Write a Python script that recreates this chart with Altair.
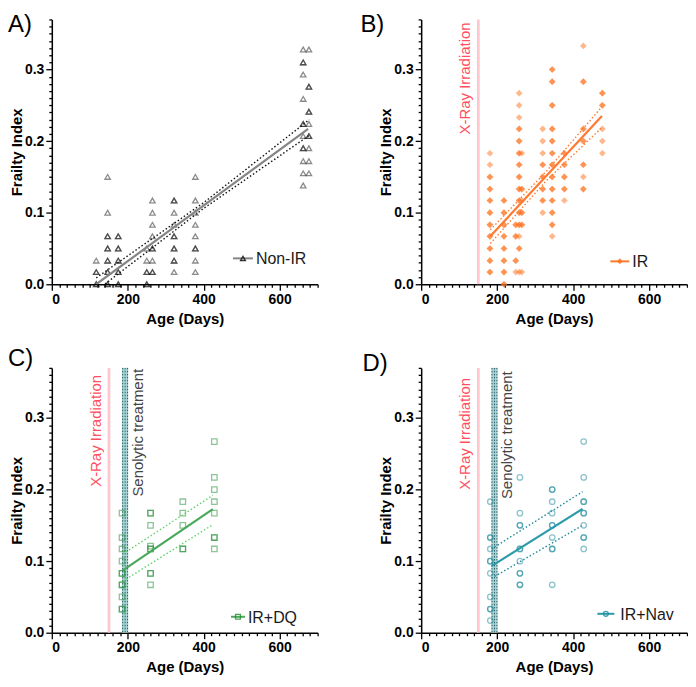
import altair as alt
import pandas as pd

# ---------------- axis ticks ----------------
X_TICKS = list(range(0, 701, 20))
Y_TICKS = [round(i * 0.01, 2) for i in range(0, 38)]

# ---------------- Panel A : Non-IR ----------------
A_day = [117, 117, 117,
         147, 147, 147, 147, 147, 147, 147,
         175, 175, 175, 175, 175,
         250, 250, 250, 250,
         265, 265, 265, 265, 265, 265, 265,
         322, 322, 322, 322, 322, 322, 322,
         378, 378, 378, 378, 378, 378, 378, 378,
         662, 662, 662, 662, 662, 662, 662, 662, 662, 662,
         677, 677, 677, 677, 677, 677, 677, 677]
A_fi = [0.0, 0.017, 0.033,
        0.15, 0.10, 0.067, 0.05, 0.033, 0.017, 0.0,
        0.067, 0.05, 0.033, 0.017, 0.0,
        0.0, 0.017, 0.033, 0.05,
        0.117, 0.10, 0.083, 0.067, 0.05, 0.033, 0.017,
        0.117, 0.10, 0.083, 0.067, 0.05, 0.033, 0.017,
        0.15, 0.117, 0.10, 0.083, 0.067, 0.05, 0.033, 0.017,
        0.328, 0.310, 0.293, 0.259, 0.224, 0.207, 0.190, 0.172, 0.155, 0.138,
        0.328, 0.276, 0.241, 0.224, 0.207, 0.190, 0.172, 0.155]
A_n = [2, 2, 1,
       1, 1, 2, 2, 2, 2, 2,
       2, 2, 2, 2, 2,
       2, 2, 1, 1,
       1, 1, 1, 1, 2, 1, 2,
       2, 1, 1, 2, 2, 2, 1,
       1, 1, 1, 1, 1, 2, 1, 1,
       1, 2, 1, 1, 2, 1, 2, 1, 1, 1,
       1, 2, 2, 1, 2, 1, 1, 1]
A_fit_day = [117, 675]
A_fit_fi = [0.0, 0.217]
A_ci_day = [117, 400, 678]
A_ci_hi = [0.009, 0.114, 0.230]
A_ci_lo = [-0.009, 0.106, 0.208]

# ---------------- Panel B : IR ----------------
B_day = [181] * 11 + [218] * 8 + [249] * 4 + [258] * 15 + [265] * 6 + [320] * 8 + [345] * 13 + [377] * 5 + [427] * 8 + [477] * 5
B_fi = [0.183, 0.167, 0.15, 0.133, 0.117, 0.10, 0.083, 0.067, 0.05, 0.033, 0.017,
        0.117, 0.10, 0.083, 0.067, 0.05, 0.033, 0.017, 0.0,
        0.083, 0.067, 0.033, 0.017,
        0.267, 0.25, 0.233, 0.217, 0.20, 0.183, 0.167, 0.15, 0.133, 0.117, 0.10, 0.083, 0.067, 0.05, 0.017,
        0.183, 0.133, 0.117, 0.10, 0.083, 0.017,
        0.217, 0.20, 0.183, 0.167, 0.15, 0.133, 0.117, 0.10,
        0.30, 0.283, 0.25, 0.217, 0.20, 0.183, 0.167, 0.15, 0.133, 0.117, 0.10, 0.083, 0.067,
        0.183, 0.167, 0.15, 0.133, 0.117,
        0.333, 0.283, 0.217, 0.20, 0.167, 0.15, 0.133, 0.20,
        0.267, 0.25, 0.217, 0.20, 0.183]
B_n = [1, 1, 2, 2, 2, 2, 2, 2, 2, 2, 2,
       2, 2, 2, 2, 2, 2, 2, 2,
       2, 2, 2, 1,
       1, 1, 1, 2, 2, 2, 2, 2, 2, 2, 2, 2, 1, 2, 1,
       1, 2, 1, 2, 2, 1,
       1, 1, 1, 2, 2, 2, 2, 1,
       2, 2, 2, 2, 2, 2, 2, 2, 2, 2, 2, 2, 1,
       2, 2, 2, 2, 1,
       1, 2, 2, 1, 2, 1, 2, 1,
       2, 2, 1, 1, 1]
B_fit_day = [182, 476]
B_fit_fi = [0.067, 0.235]
B_ci_day = [182, 330, 476]
B_ci_hi = [0.076, 0.158, 0.248]
B_ci_lo = [0.057, 0.145, 0.219]

# ---------------- Panel C : IR+DQ ----------------
C_day = [185] * 8 + [260] * 6 + [345] * 4 + [428] * 7
C_fi = [0.167, 0.133, 0.117, 0.10, 0.083, 0.067, 0.05, 0.033,
        0.167, 0.15, 0.121, 0.117, 0.083, 0.067,
        0.183, 0.167, 0.15, 0.117,
        0.267, 0.217, 0.20, 0.183, 0.167, 0.133, 0.117]
C_n = [1, 1, 1, 1, 2, 2, 1, 2,
       2, 1, 1, 2, 2, 1,
       1, 1, 1, 2,
       1, 1, 1, 1, 1, 2, 1]
C_fit_day = [187, 424]
C_fit_fi = [0.087, 0.1726]
C_ci_day = [187, 424]
C_ci_hi = [0.110, 0.192]
C_ci_lo = [0.072, 0.151]

# ---------------- Panel D : IR+Nav ----------------
D_day = [182] * 8 + [260] * 7 + [345] * 7 + [428] * 7
D_fi = [0.183, 0.133, 0.117, 0.10, 0.083, 0.05, 0.033, 0.017,
        0.217, 0.167, 0.15, 0.117, 0.10, 0.083, 0.067,
        0.20, 0.183, 0.167, 0.15, 0.133, 0.117, 0.067,
        0.267, 0.217, 0.183, 0.167, 0.15, 0.133, 0.117]
D_n = [1, 2, 1, 2, 1, 1, 2, 1,
       1, 1, 2, 2, 1, 2, 2,
       2, 1, 1, 2, 1, 2, 1,
       1, 1, 2, 2, 1, 2, 1]
D_fit_day = [185, 425]
D_fit_fi = [0.093, 0.173]
D_ci_day = [185, 425]
D_ci_hi = [0.117, 0.197]
D_ci_lo = [0.076, 0.150]

# ---------------- events ----------------
XRAY_START, XRAY_END, XRAY_DAY = 147, 154, 150
SENO_START, SENO_END, SENO_DAY = 185, 201, 193
SENO_LINES = [186.5, 193, 199.5]

NAMES = ["Non-IR", "IR", "IR+DQ", "IR+Nav"]
LETTERS = ["A)", "B)", "C)", "D)"]

W = 267
H = 266
FONT = "Liberation Sans"

xscale = alt.Scale(domain=[0, 700], nice=False, zero=False)
yscale = alt.Scale(domain=[0, 0.37], nice=False, zero=False)

x_axis = alt.Axis(
    values=X_TICKS,
    labelExpr="datum.value % 200 === 0 ? datum.label : ''",
    tickSize={"condition": {"test": "datum.value % 200 === 0", "value": 6}, "value": 3},
    title="Age (Days)",
    labelOverlap=False,
    grid=False,
)
y_axis = alt.Axis(
    values=Y_TICKS,
    labelExpr="abs(datum.value*10 - round(datum.value*10)) < 0.001 ? format(datum.value, '.1f') : ''",
    tickSize={"condition": {"test": "abs(datum.value*10 - round(datum.value*10)) < 0.001", "value": 6}, "value": 3},
    title="Frailty Index",
    labelOverlap=False,
    grid=False,
)


def X(field):
    return alt.X(field, type="quantitative", scale=xscale, axis=x_axis)


def Y(field):
    return alt.Y(field, type="quantitative", scale=yscale, axis=y_axis)


def expand(days, fis, ns):
    rows = []
    for d, f, n in zip(days, fis, ns):
        for _ in range(n):
            rows.append({"day": d, "fi": f})
    return pd.DataFrame(rows)


def panel(idx, days, fis, ns, fit_d, fit_f, ci_d, ci_hi, ci_lo, marker,
          line_color, ci_color, legend_pos, letter_pos,
          xray=None, seno=None):
    layers = []
    # event bands
    if xray is not None:
        band = pd.DataFrame({"x0": [XRAY_START], "x1": [XRAY_END], "d": [XRAY_DAY]})
        layers.append(alt.Chart(band).mark_rect(color="#ffc0c8", opacity=0.9).encode(
            x=X("x0"), x2="x1", y=alt.value(0), y2=alt.value(H)))
        layers.append(alt.Chart(band).mark_text(
            text="X-Ray Irradiation", angle=270, align="right", baseline="bottom",
            dy=-5, fontSize=15, font=FONT, color="#ff4f5e").encode(
            x=X("d"), y=alt.value(xray)))
    if seno is not None:
        sband = pd.DataFrame({"x0": [SENO_START], "x1": [SENO_END], "d": [SENO_DAY]})
        layers.append(alt.Chart(sband).mark_rect(color="#9fcfcf", opacity=0.9).encode(
            x=X("x0"), x2="x1", y=alt.value(0), y2=alt.value(H)))
        layers.append(alt.Chart(pd.DataFrame({"d": SENO_LINES})).mark_rule(
            color="#2c5d68", strokeWidth=1, strokeDash=[1.5, 1.5]).encode(
            x=X("d"), y=alt.value(0), y2=alt.value(H)))
        layers.append(alt.Chart(sband).mark_text(
            text="Senolytic treatment", angle=270, align="right", baseline="top",
            dy=6, fontSize=15, font=FONT, color="#444444").encode(
            x=X("d"), y=alt.value(seno)))

    # points
    pts = expand(days, fis, ns)
    shape, filled, mcolor, size, op = marker
    if filled:
        pmark = alt.Chart(pts).mark_point(shape=shape, filled=True, fill=mcolor,
                                          strokeWidth=0, size=size, opacity=op)
    else:
        pmark = alt.Chart(pts).mark_point(shape=shape, filled=False, color=mcolor,
                                          strokeWidth=1.3, size=size, opacity=op)
    layers.append(pmark.encode(x=X("day"), y=Y("fi")))

    # confidence bands (dotted)
    ci = pd.DataFrame({
        "day": ci_d + ci_d,
        "fi": ci_hi + ci_lo,
        "bound": ["hi"] * len(ci_d) + ["lo"] * len(ci_d),
    })
    layers.append(alt.Chart(ci).mark_line(color=ci_color, strokeWidth=1.4,
                                          strokeDash=[1.5, 2.2], clip=True).encode(
        x=X("day"), y=Y("fi"), detail="bound:N"))
    # fit line
    fit = pd.DataFrame({"day": fit_d, "fi": fit_f})
    layers.append(alt.Chart(fit).mark_line(color=line_color, strokeWidth=2.2, clip=True).encode(
        x=X("day"), y=Y("fi")))

    # legend
    lx0, lx1, ly, tx = legend_pos
    lg = pd.DataFrame({"label": [NAMES[idx]]})
    layers.append(alt.Chart(lg).mark_rule(color=line_color, strokeWidth=2).encode(
        x=alt.value(lx0), x2=alt.value(lx1), y=alt.value(ly)))
    if filled:
        lm = alt.Chart(lg).mark_point(shape=shape, filled=True, fill=mcolor, strokeWidth=0,
                                      size=size * 0.8, opacity=0.8)
    else:
        lm = alt.Chart(lg).mark_point(shape=shape, filled=False, color=mcolor, strokeWidth=1.3,
                                      size=size * 0.8, opacity=0.8)
    layers.append(lm.encode(x=alt.value((lx0 + lx1) / 2), y=alt.value(ly)))
    layers.append(alt.Chart(lg).mark_text(align="left", baseline="middle", fontSize=16,
                                          font=FONT, color="#1a1a1a").encode(
        x=alt.value(tx), y=alt.value(ly + 1), text="label:N"))

    # panel letter
    lt = pd.DataFrame({"t": [LETTERS[idx]]})
    layers.append(alt.Chart(lt).mark_text(align="left", baseline="top", fontSize=24,
                                          font=FONT, color="#000000").encode(
        x=alt.value(letter_pos[0]), y=alt.value(letter_pos[1]), text="t:N"))

    return alt.layer(*layers).properties(width=W, height=H)


pA = panel(0, A_day, A_fi, A_n, A_fit_day, A_fit_fi, A_ci_day, A_ci_hi, A_ci_lo,
           ("triangle-up", False, "#000000", 30, 0.45), "#858585", "#111111",
           (182, 202, 240, 205), (-44, -6))
pB = panel(1, B_day, B_fi, B_n, B_fit_day, B_fit_fi, B_ci_day, B_ci_hi, B_ci_lo,
           ("diamond", True, "#ff6f1a", 45, 0.5), "#ff7a30", "#ff7a30",
           (190, 209, 243, 212), (-61, -6), xray=3)
pC = panel(2, C_day, C_fi, C_n, C_fit_day, C_fit_fi, C_ci_day, C_ci_hi, C_ci_lo,
           ("square", False, "#1e8c32", 30, 0.5), "#4aa85a", "#5fd36a",
           (180, 194, 250, 197), (-44, -21), xray=7, seno=1)
pD = panel(3, D_day, D_fi, D_n, D_fit_day, D_fit_fi, D_ci_day, D_ci_hi, D_ci_lo,
           ("circle", False, "#1e8a9c", 30, 0.5), "#2a9aaa", "#1e8a9c",
           (177, 194, 247, 200), (-59, -16), xray=10, seno=3.5)

chart = alt.concat(pA, pB, pC, pD, columns=2,
                   spacing={"row": 84, "column": 104}, bounds="flush").properties(
    padding={"left": 0, "top": 3, "right": 0, "bottom": 0}
).configure_view(stroke=None).configure_axis(
    domainColor="#000000", domainWidth=1.5, tickColor="#000000", tickWidth=1.3,
    labelFont=FONT, labelFontSize=14, labelFontWeight="bold", labelColor="#000000",
    titleFont=FONT, titleFontSize=15, titleFontWeight="bold", titleColor="#000000",
    labelPadding=2, grid=False,
).configure_axisX(titlePadding=5).configure_axisY(titlePadding=0)

chart.save("out.html", embed_options={"renderer": "svg", "actions": False})
